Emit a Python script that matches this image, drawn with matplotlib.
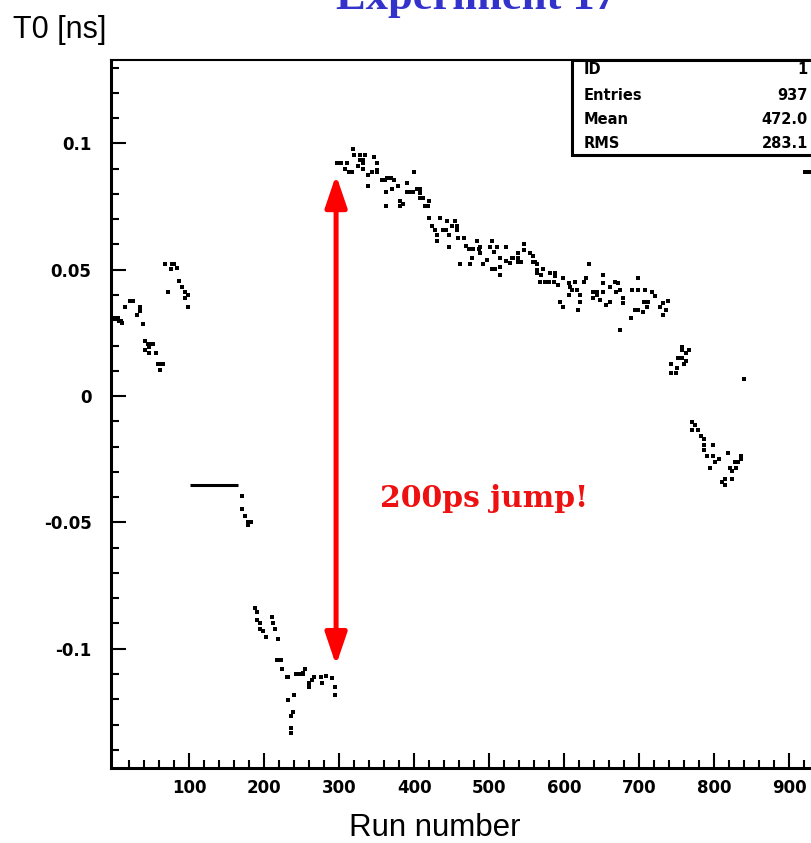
import matplotlib
matplotlib.use("Agg")
import matplotlib.pyplot as plt
from matplotlib.patches import Rectangle, FancyArrowPatch
import numpy as np

# run number / T0 [ns], cluster by cluster
runs_a = [1, 3, 5, 7, 9, 11, 15, 21, 25, 30, 34, 34, 38, 41, 41, 45, 46, 47, 49, 52, 56, 59, 61, 63, 65]
t0_a = [0.0309, 0.0309, 0.0309, 0.0297, 0.0297, 0.0288, 0.0351, 0.0376, 0.0376, 0.0319, 0.0352, 0.0338,
        0.0284, 0.0218, 0.0182, 0.0205, 0.0193, 0.0169, 0.0205, 0.0205, 0.0169, 0.0125, 0.0103, 0.0125, 0.0125]

runs_b = [68, 72, 76, 77, 80, 84, 87, 91, 95, 95, 99, 99]
t0_b = [0.0521, 0.0410, 0.0503, 0.0521, 0.0521, 0.0505, 0.0455, 0.0430, 0.0410, 0.0387, 0.0398, 0.0351]

# flat stretch (same T0 for a block of runs)
flat_first, flat_last, flat_t0 = 101, 165, -0.0352

runs_c = [171, 171, 175, 179, 179, 183]
t0_c = [-0.0396, -0.0445, -0.0476, -0.0500, -0.0510, -0.0500]

runs_d = [188, 190, 190, 194, 194, 199, 202, 210, 212, 215, 218, 217, 222, 224, 230, 232, 232, 236, 236,
          236, 239, 240, 243, 248, 252, 252, 255, 260, 260, 264, 267, 276, 277, 282, 290, 294, 294]
t0_d = [-0.0840, -0.0854, -0.0886, -0.0900, -0.0922, -0.0930, -0.0952, -0.0873, -0.0900, -0.0920, -0.0962,
        -0.1045, -0.1045, -0.1082, -0.1113, -0.1113, -0.1203, -0.1265, -0.1314, -0.1334, -0.1252, -0.1183,
        -0.1101, -0.1101, -0.1101, -0.1096, -0.1082, -0.1136, -0.1150, -0.1124, -0.1113, -0.1113, -0.1137,
        -0.1108, -0.1117, -0.1150, -0.1183]

runs_e = [297, 303, 310, 308, 313, 317, 319, 320, 325, 328, 328, 332, 332, 332, 335, 339, 339, 344, 347,
          350, 351, 351, 357, 361, 362, 362, 364, 369, 370, 373, 378, 381, 381, 385, 390, 391, 395, 399,
          400, 404, 408, 408, 408, 412, 415, 419, 420, 420, 424, 428, 431, 431, 435, 439, 443, 444, 447,
          447, 450, 454, 457, 457, 458, 461, 466, 469, 473, 474, 477, 479, 484, 486, 488, 488, 492, 497,
          501, 504, 504, 506, 508, 510, 515, 515, 515, 523, 523, 528, 530, 532, 538, 539, 539, 543, 546,
          546, 555, 558, 558, 561, 564, 564, 564, 568, 569, 572, 574, 580, 581, 586, 588, 588, 592, 594,
          599, 599, 606, 607, 608, 610, 615, 617, 619, 621, 621, 626, 629, 633, 638, 639, 644, 644, 648,
          652, 652, 652, 656, 661, 661, 668, 669, 672, 674, 675, 679, 679, 689, 690, 695, 699, 699, 699,
          705, 706, 708, 710, 712, 717, 721, 728, 732, 732, 736, 739]
t0_e = [0.0921, 0.0921, 0.0921, 0.0898, 0.0885, 0.0885, 0.0976, 0.0955, 0.0910, 0.0955, 0.0934, 0.0934,
        0.0921, 0.0898, 0.0955, 0.0875, 0.0831, 0.0885, 0.0947, 0.0885, 0.0921, 0.0894, 0.0855, 0.0855,
        0.0806, 0.0752, 0.0864, 0.0864, 0.0818, 0.0855, 0.0831, 0.0772, 0.0752, 0.0762, 0.0806, 0.0842,
        0.0806, 0.0806, 0.0885, 0.0818, 0.0818, 0.0802, 0.0782, 0.0782, 0.0752, 0.0752, 0.0772, 0.0703,
        0.0673, 0.0657, 0.0637, 0.0613, 0.0703, 0.0657, 0.0657, 0.0694, 0.0637, 0.0591, 0.0673, 0.0694,
        0.0673, 0.0657, 0.0624, 0.0521, 0.0624, 0.0594, 0.0582, 0.0521, 0.0545, 0.0582, 0.0613, 0.0582,
        0.0591, 0.0565, 0.0521, 0.0538, 0.0591, 0.0613, 0.0503, 0.0571, 0.0503, 0.0591, 0.0545, 0.0512,
        0.0479, 0.0591, 0.0535, 0.0525, 0.0545, 0.0545, 0.0532, 0.0567, 0.0545, 0.0532, 0.0601, 0.0580,
        0.0567, 0.0555, 0.0532, 0.0532, 0.0521, 0.0499, 0.0486, 0.0452, 0.0479, 0.0501, 0.0452, 0.0452,
        0.0486, 0.0452, 0.0486, 0.0475, 0.0439, 0.0373, 0.0353, 0.0466, 0.0446, 0.0400, 0.0433, 0.0419,
        0.0452, 0.0419, 0.0339, 0.0400, 0.0373, 0.0452, 0.0466, 0.0522, 0.0387, 0.0413, 0.0413, 0.0400,
        0.0380, 0.0479, 0.0446, 0.0413, 0.0360, 0.0433, 0.0373, 0.0452, 0.0413, 0.0446, 0.0261, 0.0419,
        0.0387, 0.0367, 0.0307, 0.0419, 0.0340, 0.0419, 0.0466, 0.0340, 0.0334, 0.0373, 0.0419, 0.0353,
        0.0373, 0.0410, 0.0397, 0.0353, 0.0367, 0.0320, 0.0340, 0.0376]

runs_f = [743, 743, 749, 750, 752, 757, 757, 757, 760, 763, 763, 767, 840]
t0_f = [0.0125, 0.0090, 0.0090, 0.0113, 0.0149, 0.0149, 0.0195, 0.0182, 0.0125, 0.0169, 0.0138, 0.0182, 0.0067]

runs_g = [771, 771, 775, 779, 783, 787, 787, 787, 790, 794, 798, 798, 801, 806, 810, 814, 814, 818, 821,
          824, 824, 828, 829, 832, 836, 836, 921, 927]
t0_g = [-0.0104, -0.0135, -0.0115, -0.0135, -0.0158, -0.0171, -0.0194, -0.0214, -0.0237, -0.0286, -0.0194,
        -0.0237, -0.0262, -0.0251, -0.0342, -0.0330, -0.0352, -0.0227, -0.0286, -0.0296, -0.0330, -0.0262,
        -0.0286, -0.0262, -0.0237, -0.0251, 0.0886, 0.0886]

stat_labels = ["ID", "Entries", "Mean", "RMS"]
stat_values = ["1", "937", "472.0", "283.1"]

jump_run, jump_top, jump_bottom = 296, 0.0875, -0.1065

x_ticks = [100, 200, 300, 400, 500, 600, 700, 800, 900]
y_ticks = [-0.1, -0.05, 0, 0.05, 0.1]
y_ticklabels = ["-0.1", "-0.05", "0", "0.05", "0.1"]

W, H = 811, 843
fig = plt.figure(figsize=(W / 100, H / 100), dpi=100)
ax = fig.add_axes([111 / W, 75 / H, 712 / W, 708 / H])

runs = runs_a + runs_b + runs_c + runs_d + runs_e + runs_f + runs_g
t0 = t0_a + t0_b + t0_c + t0_d + t0_e + t0_f + t0_g
ax.plot(runs, t0, 's', color='black', ms=2.4, mew=0)
ax.hlines(flat_t0, flat_first, flat_last, color='black', lw=2.2)

ax.set_xlim(-4, 945)
ax.set_ylim(-0.1472, 0.1330)

ax.set_xticks(x_ticks)
ax.set_xticks(np.arange(20, 945, 20), minor=True)
ax.set_yticks(y_ticks)
ax.set_yticklabels(y_ticklabels)
ax.set_yticks(np.arange(-0.14, 0.135, 0.01), minor=True)
ax.tick_params(which='both', direction='in', top=False, right=False, width=1.5, color='black')
ax.tick_params(which='major', length=11)
ax.tick_params(which='minor', length=5.5)
ax.tick_params(axis='x', pad=8)
ax.tick_params(axis='y', pad=14)
for lab in ax.get_xticklabels() + ax.get_yticklabels():
    lab.set_fontsize(12)
    lab.set_fontweight('bold')
    lab.set_family('DejaVu Sans')

ax.spines['left'].set_linewidth(2.2)
ax.spines['bottom'].set_linewidth(2.2)
ax.spines['top'].set_linewidth(1.5)
ax.spines['right'].set_visible(False)

# the jump arrow
arr = FancyArrowPatch((jump_run, jump_bottom), (jump_run, jump_top),
                      arrowstyle="<|-|>,head_length=0.97,head_width=0.33",
                      mutation_scale=20, color='#ff0000', lw=3.6, shrinkA=0, shrinkB=0)
ax.add_patch(arr)
ax.text(355, -0.0404, "200ps jump!", color='#ee1111', fontsize=21.5, fontweight='bold',
        family='DejaVu Serif', ha='left', va='center')

# stats box
fig.patches.append(Rectangle((572 / W, 1 - 155 / H), 300 / W, 95 / H, transform=fig.transFigure,
                             facecolor='white', edgecolor='black', lw=2.2, zorder=5))
row_y = [70, 95, 120, 143]
for lab, val, yy in zip(stat_labels, stat_values, row_y):
    fig.text(584 / W, 1 - yy / H, lab, fontsize=10.5, fontweight='bold', va='center', ha='left', zorder=6)
    fig.text(808 / W, 1 - yy / H, val, fontsize=10.5, fontweight='bold', va='center', ha='right', zorder=6)

fig.text(13 / W, 1 - 38 / H, "T0 [ns]", fontsize=22, family='Liberation Sans', ha='left', va='baseline')
fig.text(435 / W, 1 - 836 / H, "Run number", fontsize=22.5, family='Liberation Sans', ha='center', va='baseline')
fig.text(476 / W, 1 - 9 / H, "Experiment 17", fontsize=32, fontweight='bold', family='Liberation Serif',
         color='#3333cc', ha='center', va='baseline')

fig.savefig("out.png", dpi=100)
